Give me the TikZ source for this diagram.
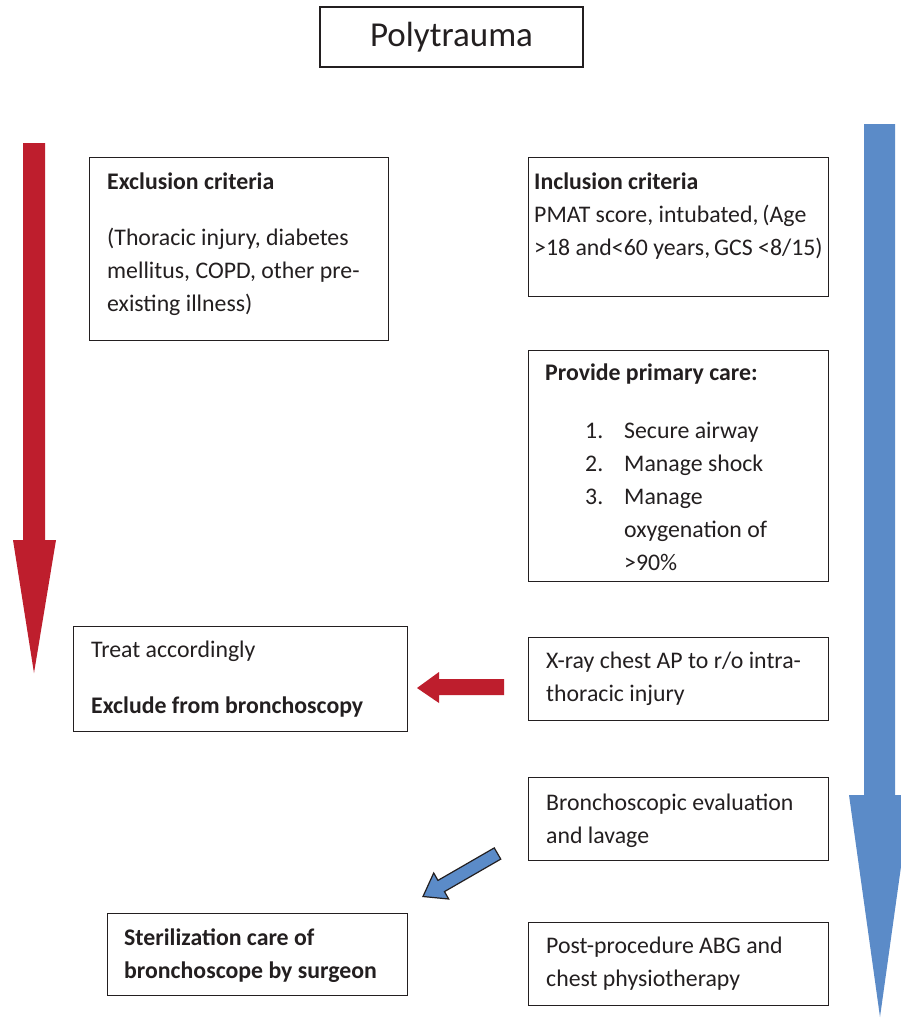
\documentclass[tikz,border=0pt]{standalone}
\usepackage{fontspec}
\setmainfont{Carlito}
\usepackage{tikz}

\definecolor{arrowred}{RGB}{190,30,45}
\definecolor{arrowblue}{RGB}{91,139,200}
\definecolor{inkgray}{RGB}{35,31,32}

\tikzset{
    box/.style={draw=inkgray, line width=1.4pt, inner sep=0pt, anchor=north west},
    txt/.style={align=left, inner sep=0pt, anchor=north west, text=inkgray,
        font=\fontsize{23.8}{33}\selectfont},
}

\begin{document}
\begin{tikzpicture}[x=1pt, y=-1pt]
    \clip (0,0) rectangle (901,1018);
    \fill[white] (0,0) rectangle (901,1018);

    % Title
    \node[box, anchor=center, minimum width=263pt, minimum height=60pt, text=inkgray,
        font=\fontsize{35}{40}\selectfont] (poly) at (451.5,37) {Polytrauma};

    % Big side arrows
    \fill[arrowred] (23,143) -- (45,143) -- (45,540) -- (56,540) -- (34,673) -- (13,540) -- (23,540) -- cycle;
    \fill[arrowblue] (864,124) -- (895,124) -- (895,795) -- (911,795) -- (880,1017) -- (849,795) -- (864,795) -- cycle;

    % Left column
    \node[box, minimum width=299pt, minimum height=183pt] (excl) at (89,157) {};
    \node[txt] (excltxt) at (107,165.9) {\strut\textbf{Exclusion criteria}\\[23pt]
        (Thoracic injury, diabetes\\mellitus, COPD, other pre-\\existing illness)};

    \node[box, minimum width=334pt, minimum height=105pt] (treat) at (73,626) {};
    \node[txt] (treattxt) at (91,633.9) {\strut Treat accordingly\\[23pt]
        \textbf{Exclude from bronchoscopy}};

    \node[box, minimum width=300pt, minimum height=82pt] (steril) at (107,913) {};
    \node[txt] (steriltxt) at (124,921.9) {\strut\textbf{Sterilization care of}\\
        \textbf{bronchoscope by surgeon}};

    % Right column
    \node[box, minimum width=300pt, minimum height=139pt] (incl) at (528,157) {};
    \node[txt] (incltxt) at (534,165.9) {\strut\textbf{Inclusion criteria}\\
        PMAT score, intubated,\,(Age\\>18 and<60 years,\,GCS <8/15)};

    \node[box, minimum width=300pt, minimum height=231pt] (prim) at (528,350) {};
    \node[txt] (primtxt) at (545,356.9) {\strut\textbf{Provide primary care:}\\[25pt]
        \hspace*{40pt}\makebox[39pt][l]{1.}Secure airway\\
        \hspace*{40pt}\makebox[39pt][l]{2.}Manage shock\\
        \hspace*{40pt}\makebox[39pt][l]{3.}Manage\\
        \hspace*{79pt}oxygenation of\\
        \hspace*{79pt}>90\%};

    \node[box, minimum width=300pt, minimum height=83pt] (xray) at (528,637) {};
    \node[txt] (xraytxt) at (546,644.9) {\strut X-ray chest AP to r/o intra-\\thoracic injury};

    \node[box, minimum width=300pt, minimum height=83pt] (bronch) at (528,777) {};
    \node[txt] (bronchtxt) at (546,786.9) {\strut Bronchoscopic evaluation\\and lavage};

    \node[box, minimum width=300pt, minimum height=83pt] (post) at (528,922) {};
    \node[txt] (posttxt) at (546,929.9) {\strut Post-procedure ABG and\\chest physiotherapy};

    % Small arrows between columns
    \fill[arrowred] (504,679) -- (439,679) -- (439,672) -- (417,688) -- (439,703) -- (439,695) -- (504,695) -- cycle;
    \filldraw[fill=arrowblue, draw=inkgray, line width=1.2pt, line join=miter]
        (500.75,859.1) -- (494.25,847.9) -- (437.95,880.4) -- (433.7,873) -- (423,896.5)
        -- (448.7,899) -- (444.45,891.6) -- cycle;
\end{tikzpicture}
\end{document}
